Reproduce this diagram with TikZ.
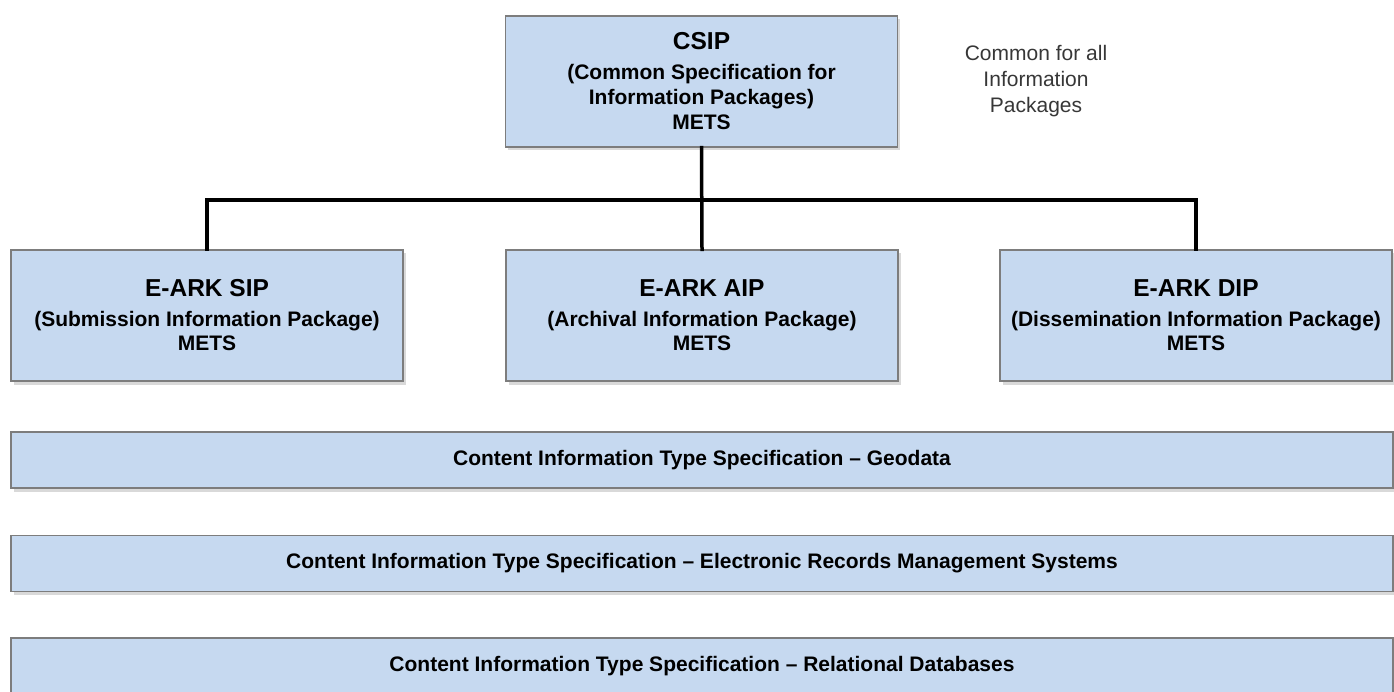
\documentclass[tikz,border=0pt]{standalone}
\usepackage{fontspec}
\setmainfont{Liberation Sans}
\usetikzlibrary{shadows}
\definecolor{boxblue}{RGB}{198,217,240}
\definecolor{boxline}{RGB}{125,125,125}
\definecolor{notegray}{RGB}{55,55,55}
\newcommand{\pkgtitle}[1]{{\fontsize{24.5pt}{28pt}\selectfont #1}}
\begin{document}
\begin{tikzpicture}[x=1pt,y=-1pt,
base/.style={%
draw=boxline,
line width=1.2pt,
fill=boxblue,
drop shadow={shadow xshift=2.5pt,shadow yshift=-3.5pt,opacity=0.3},
font={\bfseries\fontsize{21pt}{24pt}\selectfont},
align=center,
inner sep=0pt,
},
pkg/.style={%
base,
minimum width=392pt,
minimum height=131pt,
},
spec/.style={%
base,
minimum width=1382pt,
minimum height=56pt,
font={\bfseries\fontsize{21pt}{24pt}\selectfont},
},
note/.style={%
font={\fontsize{21pt}{26pt}\selectfont\color{notegray}},
align=center,
},
link/.style={%
line width=3.5pt,
line cap=rect,
}
]
\useasboundingbox (0,0) rectangle (1394,692);

%CSIP
\node[pkg,font={\bfseries\fontsize{21pt}{25pt}\selectfont}](csip)at(701.5,81.5){\pkgtitle{CSIP}\\[5pt](Common Specification for\\Information Packages)\\METS};
\node[note](common)at(1036,81.5){Common for all\\Information\\Packages};

%Packages
\node[pkg](sip)at(207,315.5){\pkgtitle{E-ARK SIP}\\[6pt](Submission Information Package)\\METS};
\node[pkg](aip)at(702,315.5){\pkgtitle{E-ARK AIP}\\[6pt](Archival Information Package)\\METS};
\node[pkg](dip)at(1196,315.5){\pkgtitle{E-ARK DIP}\\[6pt](Dissemination Information Package)\\METS};

%Links
\coordinate (bus) at (701.5,200);
\draw[link] (csip.south) -- (aip.north);
\draw[link] (sip.north) -- (sip.north |- bus) -- (dip.north |- bus) -- (dip.north);

%Content types
\node[spec](geo)at(702,460){Content Information Type Specification -- Geodata};
\node[spec](erms)at(702,563.5){Content Information Type Specification -- Electronic Records Management Systems};
\node[spec](rdb)at(702,666){Content Information Type Specification -- Relational Databases};
\end{tikzpicture}
\end{document}
